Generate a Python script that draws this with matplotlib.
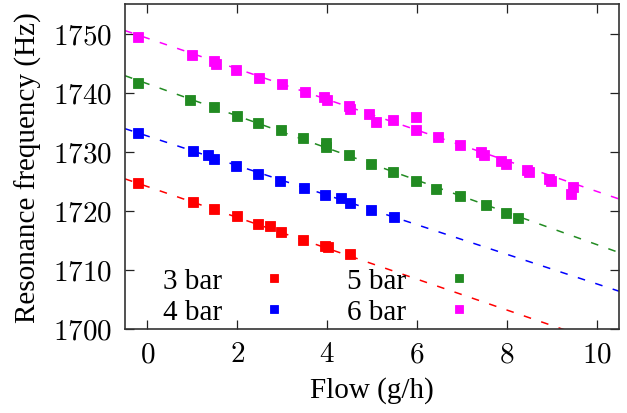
import numpy as np
import matplotlib
matplotlib.use("Agg")
import matplotlib.pyplot as plt
from matplotlib.ticker import FuncFormatter

plt.rcParams["font.family"] = ["Liberation Serif", "DejaVu Serif"]
plt.rcParams["mathtext.fontset"] = "cm"

# === Data ===
labels = ["3 bar", "4 bar", "5 bar", "6 bar"]
colors = ["#ff0000", "#0000ff", "#228b22", "#ff00ff"]

flow_3 = [-0.22, 1.01, 1.49, 2.00, 2.46, 2.72, 2.98, 3.47, 3.96, 4.02, 4.52]
freq_3 = [1724.7, 1721.5, 1720.3, 1719.1, 1717.8, 1717.4, 1716.4, 1715.1, 1714.0, 1713.8, 1712.7]

flow_4 = [-0.22, 1.01, 1.34, 1.49, 1.98, 2.47, 2.96, 3.48, 3.96, 4.31, 4.50, 4.98, 5.50]
freq_4 = [1733.2, 1730.2, 1729.5, 1728.8, 1727.6, 1726.3, 1725.1, 1723.9, 1722.6, 1722.1,
          1721.3, 1720.1, 1718.9]

flow_5 = [-0.20, 0.95, 1.49, 2.00, 2.47, 2.98, 3.47, 3.98, 3.98, 4.48, 4.97, 5.46, 5.98,
          6.43, 6.97, 7.53, 7.99, 8.25]
freq_5 = [1741.7, 1738.8, 1737.6, 1736.1, 1734.9, 1733.6, 1732.3, 1731.4, 1730.8, 1729.5,
          1727.9, 1726.6, 1725.1, 1723.7, 1722.5, 1720.9, 1719.6, 1718.8]

flow_6 = [-0.20, 0.99, 1.48, 1.53, 1.98, 2.49, 3.00, 3.50, 3.94, 4.00, 4.48, 4.52, 4.94,
          5.09, 5.46, 5.98, 5.98, 6.48, 6.96, 7.43, 7.50, 7.88, 7.99, 8.46, 8.50, 8.95,
          8.98, 9.47, 9.43]
freq_6 = [1749.4, 1746.3, 1745.4, 1744.8, 1743.9, 1742.5, 1741.5, 1740.1, 1739.3, 1738.7,
          1737.8, 1737.3, 1736.4, 1735.0, 1735.4, 1735.9, 1733.6, 1732.5, 1731.1, 1729.9,
          1729.4, 1728.5, 1728.0, 1726.9, 1726.6, 1725.4, 1725.1, 1724.0, 1722.9]

# linear fits (slope, intercept) as drawn in the reference
fit_slope = [-2.61, -2.50, -2.72, -2.59]
fit_intercept = [1724.1, 1732.65, 1741.5, 1749.2]

flows = [flow_3, flow_4, flow_5, flow_6]
freqs = [freq_3, freq_4, freq_5, freq_6]

# === Plot ===
fig = plt.figure(figsize=(6.27, 4.14), dpi=100)
ax = fig.add_axes([0.1994, 0.2029, 0.7878, 0.7851])

x_min, x_max = -0.5, 10.5
xx = np.linspace(x_min, x_max, 200)

for fx, fy, m, b, c, lab in zip(flows, freqs, fit_slope, fit_intercept, colors, labels):
    ax.plot(xx, m * xx + b, color=c, lw=1.1, dashes=(5, 7))
    ax.plot(fx, fy, "s", color=c, ms=7, mec=c, mew=0.6, ls="none", label=lab)

ax.set_xlim(x_min, x_max)
ax.set_ylim(1700, 1755)
ax.set_xticks([0, 2, 4, 6, 8, 10])
ax.set_yticks([1700, 1710, 1720, 1730, 1740, 1750])
fmt = FuncFormatter(lambda v, pos: f"${v:g}$")
ax.xaxis.set_major_formatter(fmt)
ax.yaxis.set_major_formatter(fmt)
ax.tick_params(direction="in", top=True, right=True, length=6.5, width=0.9,
               labelsize=21, pad=9, color="#222222")
for s in ax.spines.values():
    s.set_linewidth(1.2)
    s.set_color("#333333")

ax.set_xlabel("Flow (g/h)", fontsize=21, labelpad=6)
ax.set_ylabel("Resonance frequency (Hz)", fontsize=21, labelpad=8)

ax.legend(ncol=2, markerfirst=False, frameon=False, fontsize=21,
          loc="lower left", bbox_to_anchor=(0.035, -0.05),
          handlelength=1.0, handletextpad=1.3, columnspacing=2.0,
          labelspacing=0.15, markerscale=0.85, borderpad=0.2)

fig.savefig("out.png", dpi=100)
